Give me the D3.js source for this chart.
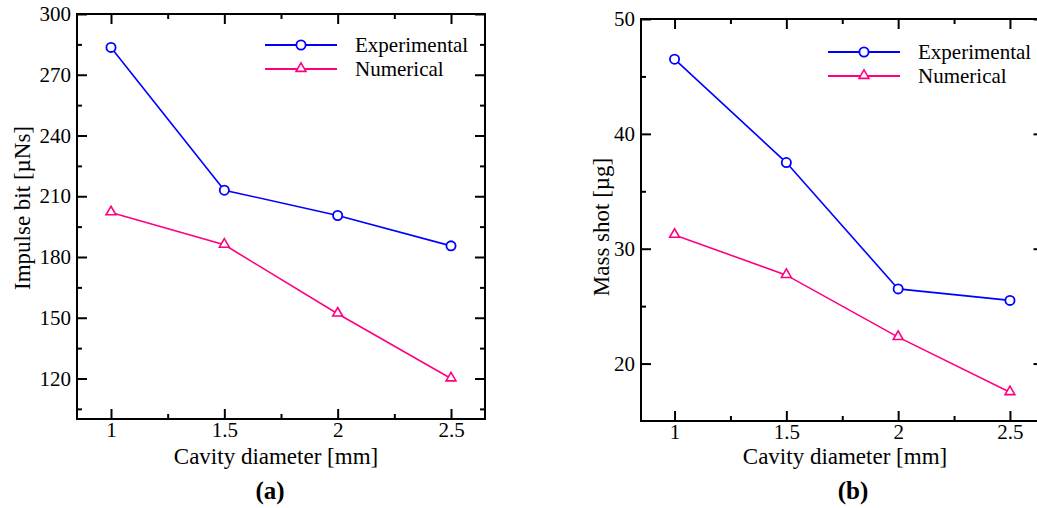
<!DOCTYPE html>
<html>
<head>
<meta charset="utf-8">
<script src="https://cdn.jsdelivr.net/npm/d3@7"></script>
<style>
  html, body { margin: 0; padding: 0; background: #fff; }
  svg { display: block; font-family: "Liberation Serif", "Times New Roman", serif; }
  svg text { font-family: "Liberation Serif", "Times New Roman", serif; fill: #000; }
</style>
</head>
<body>
<svg id="chart" width="1037" height="508"></svg>
<script>
// Cavity diameters (mm)
const diameters = [1, 1.5, 2, 2.5];

// Panel (a): impulse bit (µNs)
const impulseExperimental = [283.5, 213, 200.5, 185.5];
const impulseNumerical = [202, 186, 152, 120];
const impulseTicks = [120, 150, 180, 210, 240, 270, 300];

// Panel (b): mass shot (µg)
const massExperimental = [46.5, 37.5, 26.5, 25.5];
const massNumerical = [31.2, 27.7, 22.3, 17.5];
const massTicks = [20, 30, 40, 50];

const xTicks = [1, 1.5, 2, 2.5];
const xMinorTicks = [1.25, 1.75, 2.25];
const seriesNames = ["Experimental", "Numerical"];

const BLUE = "#0000ff";
const PINK = "#ff0080";

const svg = d3.select("#chart");

function drawPanel(cfg) {
  const g = svg.append("g");
  const x = d3.scaleLinear().domain([0.85, 2.65]).range([cfg.left, cfg.right]);
  const y = d3.scaleLinear().domain(cfg.yDomain).range([cfg.bottom, cfg.top]);

  const styleAxis = sel => {
    sel.attr("font-family", null).attr("font-size", null);
    sel.select(".domain").remove();
    sel.selectAll("line").attr("stroke", "#000").attr("stroke-width", 2);
    sel.selectAll("text").style("font-size", "21px").style("fill", "#000");
  };

  // bottom axis with labels
  g.append("g").attr("transform", `translate(0,${cfg.bottom})`)
    .call(d3.axisBottom(x).tickValues(xTicks).tickSize(-10).tickPadding(3).tickFormat(d3.format("")))
    .call(styleAxis);
  g.append("g").attr("transform", `translate(0,${cfg.bottom})`)
    .call(d3.axisBottom(x).tickValues(xMinorTicks).tickSize(-5).tickFormat(""))
    .call(styleAxis);
  // top axis
  g.append("g").attr("transform", `translate(0,${cfg.top})`)
    .call(d3.axisTop(x).tickValues(xTicks).tickSize(-10).tickFormat(""))
    .call(styleAxis);
  g.append("g").attr("transform", `translate(0,${cfg.top})`)
    .call(d3.axisTop(x).tickValues(xMinorTicks).tickSize(-5).tickFormat(""))
    .call(styleAxis);
  // left axis with labels
  g.append("g").attr("transform", `translate(${cfg.left},0)`)
    .call(d3.axisLeft(y).tickValues(cfg.yTicks).tickSize(-10).tickPadding(6).tickFormat(d3.format("")))
    .call(styleAxis);
  g.append("g").attr("transform", `translate(${cfg.left},0)`)
    .call(d3.axisLeft(y).tickValues(cfg.yMinor).tickSize(-5).tickFormat(""))
    .call(styleAxis);
  // right axis
  g.append("g").attr("transform", `translate(${cfg.right},0)`)
    .call(d3.axisRight(y).tickValues(cfg.yTicks).tickSize(-10).tickFormat(""))
    .call(styleAxis);
  g.append("g").attr("transform", `translate(${cfg.right},0)`)
    .call(d3.axisRight(y).tickValues(cfg.yMinor).tickSize(-5).tickFormat(""))
    .call(styleAxis);

  // frame
  g.append("rect")
    .attr("x", cfg.left).attr("y", cfg.top)
    .attr("width", cfg.right - cfg.left).attr("height", cfg.bottom - cfg.top)
    .attr("fill", "none").attr("stroke", "#000").attr("stroke-width", 2);

  const line = d3.line().x((d, i) => x(diameters[i])).y(d => y(d));
  const tri = d3.symbol().type(d3.symbolTriangle).size(42);

  const series = [
    { values: cfg.exp, color: BLUE, marker: "circle" },
    { values: cfg.num, color: PINK, marker: "triangle" }
  ];

  series.forEach(s => {
    g.append("path").datum(s.values)
      .attr("d", line).attr("fill", "none")
      .attr("stroke", s.color).attr("stroke-width", 1.6);
    const pts = g.selectAll(null).data(s.values).enter();
    if (s.marker === "circle") {
      pts.append("circle")
        .attr("cx", (d, i) => x(diameters[i])).attr("cy", d => y(d))
        .attr("r", 4.6).attr("fill", "#fff")
        .attr("stroke", s.color).attr("stroke-width", 1.8);
    } else {
      pts.append("path").attr("d", tri)
        .attr("transform", (d, i) => `translate(${x(diameters[i])},${y(d) - 0.5})`)
        .attr("fill", "#fff").attr("stroke", s.color).attr("stroke-width", 1.6);
    }
  });

  // legend
  series.forEach((s, i) => {
    const ly = cfg.legendY + i * 24;
    g.append("line")
      .attr("x1", cfg.legendX).attr("x2", cfg.legendX + 72)
      .attr("y1", ly).attr("y2", ly)
      .attr("stroke", s.color).attr("stroke-width", 2);
    const mx = cfg.legendX + 36;
    if (s.marker === "circle") {
      g.append("circle").attr("cx", mx).attr("cy", ly).attr("r", 4.6)
        .attr("fill", "#fff").attr("stroke", s.color).attr("stroke-width", 1.8);
    } else {
      g.append("path").attr("d", tri).attr("transform", `translate(${mx},${ly - 0.5})`)
        .attr("fill", "#fff").attr("stroke", s.color).attr("stroke-width", 1.6);
    }
    g.append("text")
      .attr("x", cfg.legendX + 90).attr("y", ly)
      .attr("dy", "0.35em")
      .style("font-size", "21px")
      .text(seriesNames[i]);
  });

  // axis titles
  g.append("text")
    .attr("x", cfg.xTitleX).attr("y", 464)
    .attr("text-anchor", "middle").style("font-size", "23px")
    .text("Cavity diameter [mm]");
  g.append("text")
    .attr("transform", `translate(${cfg.yTitleX},${cfg.yTitleY}) rotate(-90)`)
    .attr("text-anchor", "middle").style("font-size", "23px")
    .text(cfg.yTitle);
  g.append("text")
    .attr("x", cfg.tagX).attr("y", 499)
    .attr("text-anchor", "middle").style("font-size", "25px").style("font-weight", "bold")
    .text(cfg.tag);
}

drawPanel({
  left: 77, right: 485, top: 14, bottom: 419,
  yDomain: [100, 300],
  yTicks: impulseTicks,
  yMinor: [105, 135, 165, 195, 225, 255, 285],
  exp: impulseExperimental, num: impulseNumerical,
  legendX: 265, legendY: 45,
  xTitleX: 276, yTitleX: 30, yTitleY: 208,
  yTitle: "Impulse bit [µNs]", tag: "(a)", tagX: 270
});

drawPanel({
  left: 641, right: 1043.5, top: 19, bottom: 421,
  yDomain: [15, 50],
  yTicks: massTicks,
  yMinor: [25, 35, 45],
  exp: massExperimental, num: massNumerical,
  legendX: 828, legendY: 52,
  xTitleX: 845, yTitleX: 609, yTitleY: 227,
  yTitle: "Mass shot [µg]", tag: "(b)", tagX: 853
});
</script>
</body>
</html>
